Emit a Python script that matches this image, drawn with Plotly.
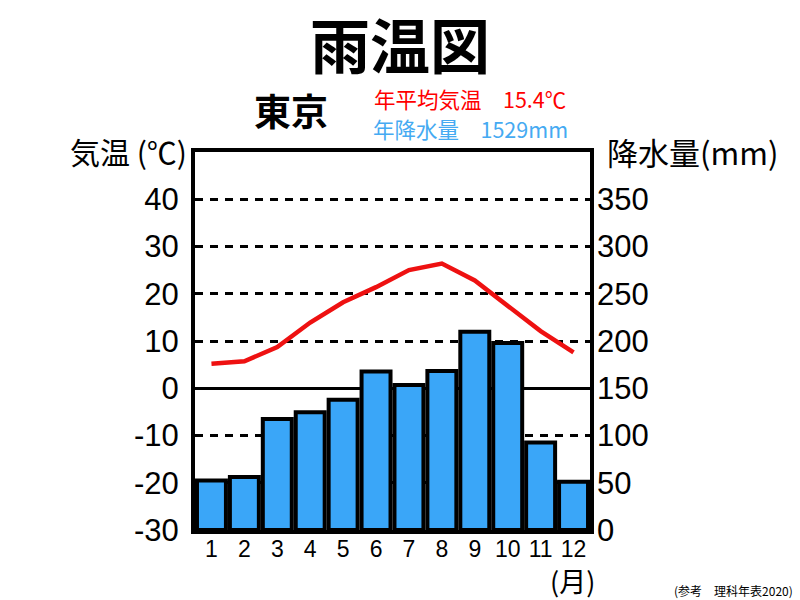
import plotly.graph_objects as go

months = [1, 2, 3, 4, 5, 6, 7, 8, 9, 10, 11, 12]
month_labels = ["1", "2", "3", "4", "5", "6", "7", "8", "9", "10", "11", "12"]
temperature = [5.2, 5.7, 8.7, 13.9, 18.2, 21.4, 25.0, 26.4, 22.8, 17.5, 12.1, 7.6]
precipitation = [52.3, 56.1, 117.5, 124.5, 137.8, 167.7, 153.5, 168.2, 209.9, 197.8, 92.5, 51.0]
temp_ticks = [-30, -20, -10, 0, 10, 20, 30, 40]
temp_labels = ["-30", "-20", "-10", "0", "10", "20", "30", "40"]
precip_ticks = [0, 50, 100, 150, 200, 250, 300, 350]

JP = "Noto Sans CJK JP"
NUM = "Liberation Sans"

L, R, T, B = 195, 210, 152, 70
PW = 800 - L - R
PH = 600 - T - B

fig = go.Figure()
fig.add_trace(go.Bar(
    x=months, y=precipitation, yaxis="y2",
    marker=dict(color="#3AA6F8", line=dict(color="black", width=4)),
    width=0.88, showlegend=False,
))
fig.add_trace(go.Scatter(
    x=months, y=temperature, yaxis="y", mode="lines",
    line=dict(color="#EE1111", width=4.5), showlegend=False,
))

fig.update_layout(
    width=800, height=600,
    paper_bgcolor="white", plot_bgcolor="white",
    margin=dict(l=L, r=R, t=T, b=B),
    xaxis=dict(
        range=[0.5, 12.5], tickvals=months, ticktext=month_labels,
        showgrid=False, zeroline=False,
        showline=True, linecolor="black", linewidth=4, mirror=True,
        tickfont=dict(family=NUM, size=23, color="black"),
        ticks="", ticklabelstandoff=-5,
    ),
    yaxis=dict(
        range=[-30, 50], tickvals=temp_ticks, ticktext=temp_labels,
        showgrid=True, gridcolor="black", gridwidth=2.5, griddash="8px,7px",
        zeroline=True, zerolinecolor="black", zerolinewidth=2.5,
        showline=True, linecolor="black", linewidth=4, mirror=True,
        tickfont=dict(family=NUM, size=31, color="black"),
        ticks="", ticklabelstandoff=6,
    ),
    yaxis2=dict(
        range=[0, 400], tickvals=precip_ticks, overlaying="y", side="right",
        showgrid=False, zeroline=False, showline=False,
        tickfont=dict(family=NUM, size=31, color="black"),
        ticks="", ticklabelstandoff=6,
    ),
    bargap=0.1,
)

anns = [
    dict(text="<b>雨温図</b>", x=400, y=42, font=dict(family=JP, size=60, color="black")),
    dict(text="<b>東京</b>", x=291, y=110, font=dict(family=JP, size=37, color="black")),
    dict(text="年平均気温　15.4℃", x=470, y=98, font=dict(family=JP, size=21.5, color="#FF0000")),
    dict(text="年降水量　1529mm", x=470, y=128, font=dict(family=JP, size=21.5, color="#45AAF2")),
    dict(text="気温 (℃)", x=128, y=151, font=dict(family=JP, size=30, color="black")),
    dict(text="降水量(mm)", x=692, y=151, font=dict(family=JP, size=31, color="black")),
    dict(text="(月)", x=572, y=580, font=dict(family=JP, size=27, color="black")),
    dict(text="(参考　理科年表2020)", x=733, y=590, font=dict(family=JP, size=12, color="black")),
]
for a in anns:
    fig.add_annotation(
        text=a["text"], x=(a["x"] - L) / PW, y=(600 - B - a["y"]) / PH,
        xref="paper", yref="paper", xanchor="center", yanchor="middle",
        showarrow=False, font=a["font"],
    )

fig.write_html("out.html", config={"displayModeBar": False},
               post_script="document.body.style.margin='0';")
